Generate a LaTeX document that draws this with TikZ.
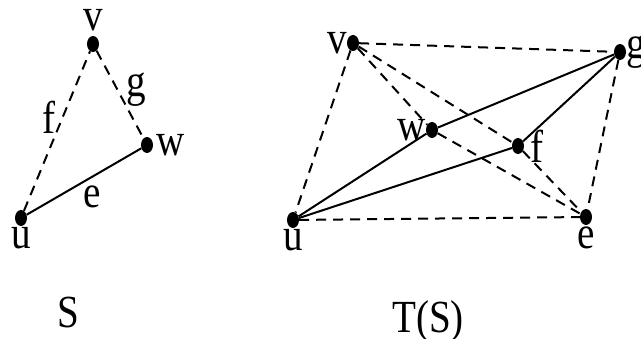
\documentclass[tikz,border=0pt]{standalone}
\usepackage{fontspec}
\setmainfont{Liberation Serif}
\usepackage{tikz}
\usetikzlibrary{positioning, shapes.geometric}

\begin{document}
\begin{tikzpicture}[
      x=1pt, y=-1pt,
      dot/.style={ellipse, fill=black, inner sep=0pt, minimum width=12pt, minimum height=16pt},
      lbl/.style={font=\fontsize{46}{54}\selectfont, inner sep=0pt, xscale=0.85},
      solidedge/.style={line width=2pt},
      dashedge/.style={line width=2pt, dash pattern=on 10pt off 7pt},
    ]
    \useasboundingbox (0,0) rectangle (641,339);

    % graph S
    \node[dot] (vS) at (93,44) {};
    \node[dot] (wS) at (147,145) {};
    \node[dot] (uS) at (21,218) {};
    \node[lbl, above=5pt of vS] (lvS) {v};
    \node[lbl, right=3pt of wS] (lwS) {w};
    \node[lbl, below=1pt of uS] (luS) {u};

    \draw[dashedge] (uS) -- node[lbl, pos=0.586, left=6pt] (lf) {f} (vS);
    \draw[dashedge] (vS) -- node[lbl, pos=0.44, right=8pt] (lg) {g} (wS);
    \draw[solidedge] (uS) -- node[lbl, pos=0.575, below=8pt] (le) {e} (wS);

    % graph T(S)
    \node[dot] (vT) at (353,43) {};
    \node[dot] (gT) at (620,52) {};
    \node[dot] (wT) at (432,130) {};
    \node[dot] (fT) at (518,146) {};
    \node[dot] (uT) at (293,220) {};
    \node[dot] (eT) at (586,217) {};
    \node[lbl, left=0pt of vT] (lvT) {v};
    \node[lbl, right=0pt of gT] (lgT) {g};
    \node[lbl, left=0pt of wT] (lwT) {w};
    \node[lbl, right=6pt of fT] (lfT) {f};
    \node[lbl, below=1pt of uT] (luT) {u};
    \node[lbl, below=1pt of eT] (leT) {e};

    \draw[dashedge] (vT) -- (gT);
    \draw[dashedge] (vT) -- (uT);
    \draw[dashedge] (vT) -- (wT);
    \draw[dashedge] (vT) -- (fT);
    \draw[dashedge] (wT) -- (eT);
    \draw[dashedge] (fT) -- (eT);
    \draw[dashedge] (gT) -- (eT);
    \draw[dashedge] (uT) -- (eT);
    \draw[solidedge] (uT) -- (wT);
    \draw[solidedge] (wT) -- (gT);
    \draw[solidedge] (uT) -- (fT);
    \draw[solidedge] (fT) -- (gT);

    % captions
    \node[lbl] (capS) at (68,312) {S};
    \node[lbl] (capT) at (428,321) {T(S)};
  \end{tikzpicture}
\end{document}
